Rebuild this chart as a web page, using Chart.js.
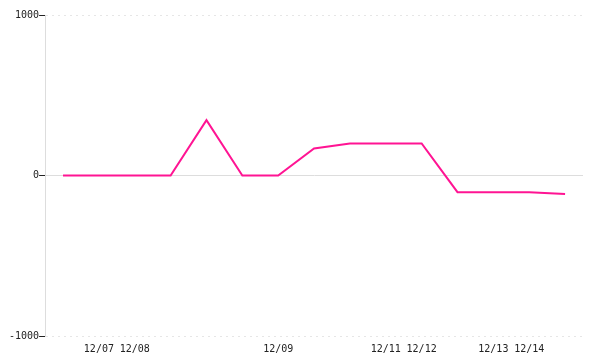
<!DOCTYPE html>
<html>
<head>
<meta charset="utf-8">
<script src="https://cdn.jsdelivr.net/npm/chart.js@4"></script>
<style>
  html, body { margin: 0; padding: 0; background: #fff; }
  #wrap { width: 600px; height: 360px; }
</style>
</head>
<body>
<div id="wrap"><canvas id="lineChart"></canvas></div>
<script>
const labels = ['', '12/07', '12/08', '', '', '', '12/09', '', '', '12/11', '12/12', '', '12/13', '12/14', ''];
const values = [0, 0, 0, 0, 345, 0, 0, 168, 200, 200, 200, -104, -104, -104, -116];
const yTicks = [-1000, 0, 1000];

const ctx = document.getElementById('lineChart').getContext('2d');
const lineChart = new Chart(ctx, {
  type: 'line',
  data: {
    labels: labels,
    datasets: [{
      data: values,
      borderColor: '#ff1493',
      borderWidth: 2,
      pointRadius: 0,
      tension: 0,
      fill: false
    }]
  },
  options: {
    responsive: true,
    maintainAspectRatio: false,
    animation: false,
    layout: { padding: { left: 9, right: 17, top: 15, bottom: -2 } },
    plugins: {
      legend: { display: false },
      tooltip: { enabled: false }
    },
    scales: {
      x: {
        offset: true,
        grid: { display: false, drawTicks: false },
        border: { display: false },
        ticks: {
          autoSkip: false,
          maxRotation: 0,
          padding: 7,
          color: '#222',
          font: { family: 'DejaVu Sans Mono', size: 10 }
        }
      },
      y: {
        min: -1000,
        max: 1000,
        afterBuildTicks: (axis) => { axis.ticks = yTicks.map(v => ({ value: v })); },
        grid: {
          color: (c) => c.tick && c.tick.value === 0 ? '#dddddd' : '#e6e6e6',
          tickColor: '#222',
          tickBorderDash: [],
          tickLength: 6
        },
        border: {
          display: true,
          color: '#dddddd',
          dash: (c) => c.tick && c.tick.value !== 0 ? [2, 4] : []
        },
        ticks: {
          padding: 0,
          color: '#222',
          font: { family: 'DejaVu Sans Mono', size: 10 },
          callback: (v) => String(v)
        }
      }
    }
  }
});
</script>
</body>
</html>
